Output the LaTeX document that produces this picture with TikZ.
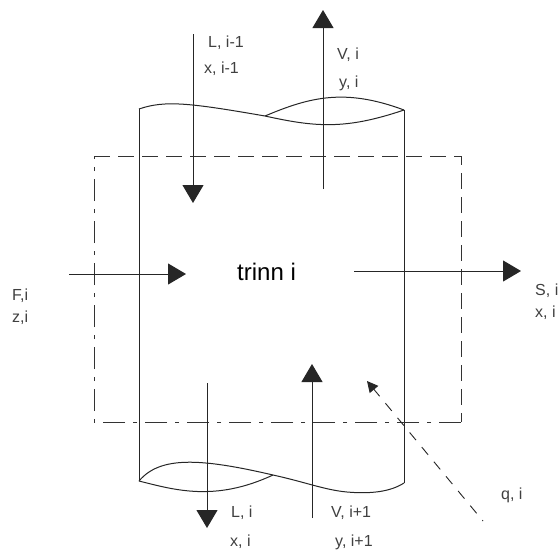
\documentclass[tikz,border=0pt]{standalone}
\usepackage{fontspec}
\setmainfont{Liberation Sans}
\usetikzlibrary{arrows.meta}
\tikzset{
  wall/.style={line width=1pt,draw=black!85},
  flow/.style={line width=1pt,draw=black!85,-{Triangle[length=18pt,width=21pt]}},
  qflow/.style={line width=0.9pt,draw=black!85,dash pattern=on 10pt off 9pt,dash phase=9pt,-{Triangle[length=11pt,width=11pt]}},
  boxdash/.style={line width=0.9pt,draw=black!80,dash pattern=on 16pt off 8pt},
  boxdot/.style={line width=0.9pt,draw=black!80,dash pattern=on 22pt off 8pt on 4pt off 8pt},
  lab/.style={anchor=west,inner sep=0pt,font=\fontsize{16}{17}\selectfont,text=black!75},
}
\begin{document}
\begin{tikzpicture}[x=1pt,y=-1pt]
\useasboundingbox[fill=white] (0,0) rectangle (559,550);
% named points
\coordinate (tl) at (139,109);
\coordinate (tm) at (265,116);
\coordinate (tr) at (404,110);
\coordinate (bl) at (139,481);
\coordinate (bm) at (273,475);
\coordinate (bd) at (347,492);
\coordinate (br) at (404,483);
\coordinate (b1) at (94,156);
\coordinate (b2) at (461,156);
\coordinate (b3) at (461,422);
\coordinate (b4) at (94,422);
% column
\draw[wall] (tl) -- (bl);
\draw[wall] (tr) -- (br);
\draw[wall] (tl) .. controls (165,100) and (190,103) .. (tm);
\draw[wall] (tm) .. controls (310,97) and (345,88) .. (tr);
\draw[wall] (tm) .. controls (315,127) and (345,130) .. (tr);
\draw[wall] (bl) .. controls (160,456) and (200,458) .. (bm);
\draw[wall] (bm) .. controls (305,482) and (325,490) .. (bd) .. controls (370,494) and (390,492) .. (br);
\draw[wall] (bl) .. controls (175,490) and (215,502) .. (bm);
% control volume
\draw[boxdash] (b1) -- (b2) -- (b3);
\draw[boxdot] (b3) -- (b4) -- (b1);
% streams
\coordinate (l0s) at (193,34);  \coordinate (l0e) at (193,203);
\coordinate (v0s) at (323,189); \coordinate (v0e) at (323,10);
\coordinate (fs) at (69,274);   \coordinate (fe) at (186,274);
\coordinate (ss) at (354,271);  \coordinate (se) at (521,271);
\coordinate (l1s) at (207,383); \coordinate (l1e) at (207,528);
\coordinate (v1s) at (312,518); \coordinate (v1e) at (312,364);
\coordinate (qs) at (483,521);  \coordinate (qe) at (367,381);
\draw[flow] (l0s) -- (l0e);
\draw[flow] (v0s) -- (v0e);
\draw[flow] (fs) -- (fe);
\draw[flow] (ss) -- (se);
\draw[flow] (l1s) -- (l1e);
\draw[flow] (v1s) -- (v1e);
\draw[qflow] (qs) -- (qe);
% labels
\node[lab] (a1) at (208,43) {L, i-1};
\node[lab] (a2) at (204,69) {x, i-1};
\node[lab] (a3) at (337,55) {V, i};
\node[lab] (a4) at (339,83) {y, i};
\node[anchor=west,inner sep=0pt,font=\fontsize{24}{25}\selectfont,text=black] (t) at (237,272) {trinn i};
\node[lab] (a5) at (12,296) {F,i};
\node[lab] (a6) at (12,318) {z,i};
\node[lab] (a7) at (535,291) {S, i};
\node[lab] (a8) at (535,313) {x, i};
\node[lab] (a9) at (231,513) {L, i};
\node[lab] (a10) at (230,542) {x, i};
\node[lab] (a11) at (331,513) {V, i+1};
\node[lab] (a12) at (335,542) {y, i+1};
\node[lab] (a13) at (501,495) {q, i};
\end{tikzpicture}
\end{document}
